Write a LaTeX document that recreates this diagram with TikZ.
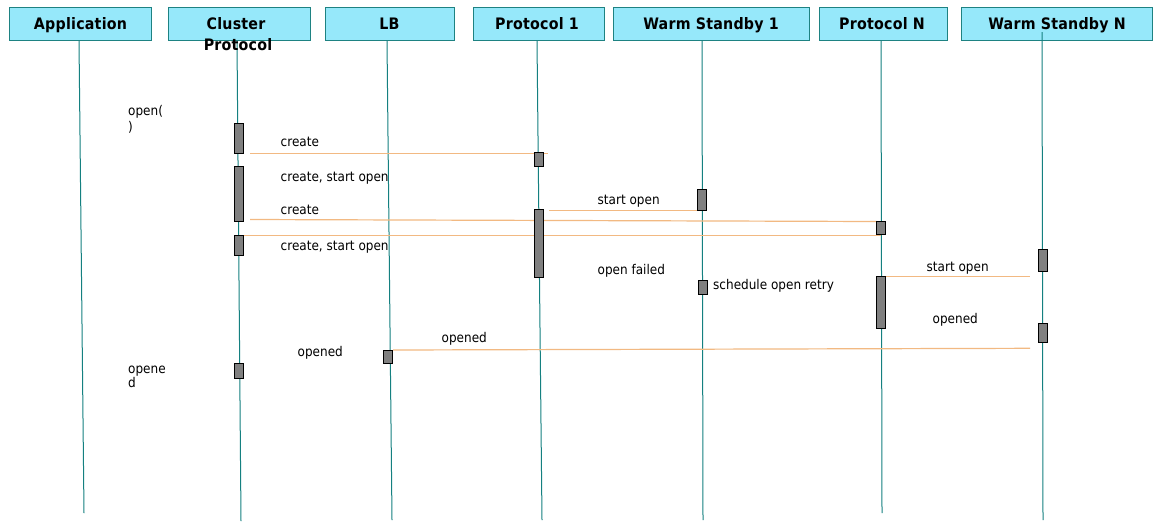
\documentclass[tikz,border=0pt]{standalone}
\usepackage{fontspec}
\setmainfont{DejaVu Sans Condensed}[BoldFont={DejaVu Sans Condensed Bold}]
\newfontfamily\hdrfont{DejaVu Sans Condensed Bold}[LetterSpace=1.5]
\definecolor{hdrfill}{RGB}{150,232,250}
\definecolor{hdrline}{RGB}{30,130,130}
\definecolor{lifecol}{RGB}{20,128,128}
\definecolor{msgcol}{RGB}{242,185,130}
\definecolor{barfill}{RGB}{128,128,128}
\begin{document}
\begin{tikzpicture}[x=1pt,y=-1pt,
  hdr/.style={draw=hdrline, fill=hdrfill, line width=1pt, inner sep=0pt, minimum height=33.4pt},
  hdrtxt/.style={anchor=base, inner sep=0pt, font=\hdrfont\fontsize{15.8}{18}\selectfont},
  life/.style={draw=lifecol, line width=1pt},
  msg/.style={draw=msgcol, line width=1.2pt},
  actbar/.style={draw=black, fill=barfill, line width=0.8pt, inner sep=0pt, minimum width=9pt},
  lbl/.style={anchor=base west, inner sep=0pt, font=\fontsize{13.4}{15}\selectfont}]
\useasboundingbox (0,0) rectangle (1161,528);
\fill[white] (0,0) rectangle (1161,528);

% header boxes
\node[hdr, minimum width=142.5pt] (app) at (80.25,24) {};
\node[hdr, minimum width=142.5pt] (clu) at (239.25,24) {};
\node[hdr, minimum width=129pt] (lb) at (389.5,24) {};
\node[hdr, minimum width=131pt] (p1) at (538.5,24) {};
\node[hdr, minimum width=196pt] (ws1) at (711,24) {};
\node[hdr, minimum width=128pt] (pn) at (883,24) {};
\node[hdr, minimum width=191pt] (wsn) at (1056.5,24) {};

% lifelines
\coordinate (appT) at (79,40.7);   \coordinate (appB) at (84,513);
\coordinate (cluT) at (237,40.7);  \coordinate (cluB) at (241,521);
\coordinate (lbT) at (387,40.7);   \coordinate (lbB) at (392,520);
\coordinate (p1T) at (537,40.7);   \coordinate (p1B) at (542,520);
\coordinate (ws1T) at (702,40.7);  \coordinate (ws1B) at (703,520);
\coordinate (pnT) at (881,40.7);   \coordinate (pnB) at (882,513);
\coordinate (wsnT) at (1042,32);   \coordinate (wsnB) at (1043,520);
\draw[life] (appT) -- (appB);
\draw[life] (cluT) -- (cluB);
\draw[life] (lbT) -- (lbB);
\draw[life] (p1T) -- (p1B);
\draw[life] (ws1T) -- (ws1B);
\draw[life] (pnT) -- (pnB);
\draw[life] (wsnT) -- (wsnB);

% header texts
\node[hdrtxt] (appL) at (80.5,29.3) {Application};
\node[hdrtxt] (cluL1) at (236,29.3) {Cluster};
\node[hdrtxt] (cluL2) at (238,50) {Protocol};
\node[hdrtxt] (lbL) at (389.5,29.3) {LB};
\node[hdrtxt] (p1L) at (537,29.3) {Protocol 1};
\node[hdrtxt] (ws1L) at (711,29.3) {Warm Standby 1};
\node[hdrtxt] (pnL) at (882,29.3) {Protocol N};
\node[hdrtxt] (wsnL) at (1057,29.3) {Warm Standby N};

% message end points
\coordinate (m1s) at (250,153.5);  \coordinate (m1e) at (547.5,153.5);
\coordinate (m2s) at (250,219.5);  \coordinate (m2e) at (876.5,221.5);
\coordinate (m3s) at (239,235.5);  \coordinate (m3e) at (881,235.5);
\coordinate (m4s) at (549,210.5);  \coordinate (m4e) at (697,210.5);
\coordinate (m5s) at (885,276.5);  \coordinate (m5e) at (1030,276.5);
\coordinate (m6s) at (393,350);    \coordinate (m6e) at (1030,348.3);
\draw[msg] (m1s) -- (m1e);
\draw[msg] (m2s) -- (m2e);
\draw[msg] (m3s) -- (m3e);
\draw[msg] (m4s) -- (m4e);
\draw[msg] (m5s) -- (m5e);
\draw[msg] (m6s) -- (m6e);

% activation bars
\node[actbar, minimum height=30.5pt] (a1) at (238.5,138.25) {};
\node[actbar, minimum height=55.5pt] (a2) at (239,193.75) {};
\node[actbar, minimum height=20.5pt] (a3) at (239,245.25) {};
\node[actbar, minimum height=15.5pt] (a4) at (239,370.75) {};
\node[actbar, minimum height=14pt] (b1) at (539,159.5) {};
\node[actbar, minimum height=68pt] (b2) at (539,243.5) {};
\node[actbar, minimum height=21.5pt] (c1) at (702,199.75) {};
\node[actbar, minimum height=14.5pt] (c2) at (702.5,287.25) {};
\node[actbar, minimum height=13pt] (d1) at (881,228) {};
\node[actbar, minimum height=52pt] (d2) at (881,302.5) {};
\node[actbar, minimum height=22pt] (e1) at (1043,260.5) {};
\node[actbar, minimum height=19pt] (e2) at (1043,333) {};
\node[actbar, minimum height=13pt] (f1) at (388,357) {};

% labels
\node[lbl] (t1) at (128,115.7) {open(};
\node[lbl] (t2) at (128,131) {)};
\node[lbl] (t3) at (280.5,146.5) {create};
\node[lbl] (t4) at (280.5,181) {create, start open};
\node[lbl] (t5) at (280.5,214) {create};
\node[lbl] (t6) at (280.5,250) {create, start open};
\node[lbl] (t7) at (597.5,204.5) {start open};
\node[lbl] (t8) at (597.5,274) {open failed};
\node[lbl] (t9) at (713,289.3) {schedule open retry};
\node[lbl] (t10) at (926.5,271.7) {start open};
\node[lbl] (t11) at (932.5,323.3) {opened};
\node[lbl] (t12) at (441.5,342.7) {opened};
\node[lbl] (t13) at (297.5,356) {opened};
\node[lbl] (t14) at (128,373.3) {opene};
\node[lbl] (t15) at (128,387.3) {d};
\end{tikzpicture}
\end{document}
